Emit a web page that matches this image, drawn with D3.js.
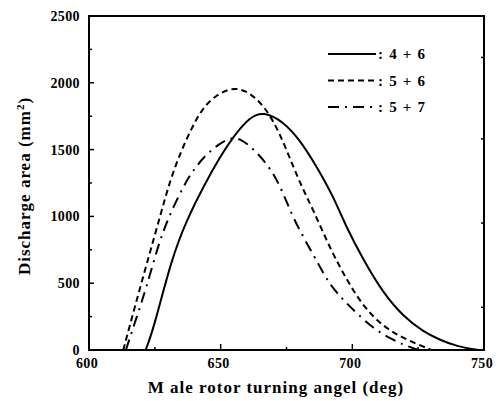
<!DOCTYPE html>
<meta charset="utf-8">
<style>
body { margin: 0; background: #fff; }
svg { display: block; }
text { font-family: "Liberation Serif", "Times New Roman", serif; font-weight: bold; fill: #000; }
.frame { fill: none; stroke: #000; stroke-width: 2; }
.curve { fill: none; stroke: #000; stroke-width: 2; }
</style>
<svg width="499" height="401"></svg>
<script src="https://d3js.org/d3.v7.min.js"></script>
<script>

// series: angle (deg) and discharge area (mm2)
var s46x = [621.5, 624.4, 631.4, 637.1, 643.4, 649.8, 654.8, 661.1, 666.2, 673.8, 680.1, 686.5, 692.8, 697.9, 704.2, 711.8, 719.4, 727, 733.3, 740, 748];
var s46y = [0, 150, 686, 973, 1222, 1447, 1597, 1745, 1785, 1710, 1572, 1372, 1148, 911, 674, 424, 250, 137, 75, 25, 0];

var s56x = [613, 617.5, 622.5, 627, 630.8, 635.2, 639, 642.2, 647.2, 656.1, 664.3, 670, 675.1, 680.1, 685.2, 691.5, 697.9, 704.2, 711.8, 719.4, 730];
var s56y = [0, 330, 686, 1000, 1272, 1500, 1660, 1780, 1900, 1985, 1880, 1722, 1497, 1248, 1048, 761, 524, 324, 174, 87, 0];

var s57x = [614, 618, 621.9, 626.3, 630.1, 635.8, 639.6, 644.7, 652.3, 657.3, 664.9, 670, 673.2, 676.3, 679.5, 687.7, 691.5, 696.6, 701.7, 708, 714.3, 720, 725];
var s57y = [0, 240, 474, 786, 990, 1225, 1347, 1472, 1585, 1595, 1460, 1323, 1198, 1048, 911, 623, 487, 374, 274, 162, 87, 35, 0];

var seriesNames = [": 4 + 6", ": 5 + 6", ": 5 + 7"];
var xTicks = [600, 650, 700, 750];
var xMinor = [625, 675, 725];
var yTicks = [0, 500, 1000, 1500, 2000, 2500];
var yMinor = [250, 750, 1250, 1750, 2250];
var rightTicks = [320, 950, 1580, 2190];

var svg = d3.select("svg");
var mLeft = 89, mRight = 484, mTop = 16, mBottom = 350;

var x = d3.scaleLinear().domain([600, 750]).range([mLeft, mRight]);
var y = d3.scaleLinear().domain([0, 2500]).range([mBottom, mTop]);

var series = [
  {name: seriesNames[0], xs: s46x, ys: s46y, dash: null},
  {name: seriesNames[1], xs: s56x, ys: s56y, dash: "6,4"},
  {name: seriesNames[2], xs: s57x, ys: s57y, dash: "11,6,2,6"}
];

// frame
svg.append("rect").attr("class", "frame")
  .attr("x", mLeft).attr("y", mTop)
  .attr("width", mRight - mLeft).attr("height", mBottom - mTop);

// ticks pointing inward
var g = svg.append("g").attr("stroke", "#000").attr("stroke-width", 1.5);
g.selectAll(".ym").data(yTicks.slice(1, -1)).enter().append("line")
  .attr("x1", mLeft).attr("x2", mLeft + 5).attr("y1", d => y(d)).attr("y2", d => y(d));
g.selectAll(".yn").data(yMinor).enter().append("line")
  .attr("x1", mLeft).attr("x2", mLeft + 3).attr("y1", d => y(d)).attr("y2", d => y(d));
g.selectAll(".xm").data(xTicks.slice(1, -1)).enter().append("line")
  .attr("x1", d => x(d)).attr("x2", d => x(d)).attr("y1", mBottom).attr("y2", mBottom - 6);
g.selectAll(".xn").data(xMinor).enter().append("line")
  .attr("x1", d => x(d)).attr("x2", d => x(d)).attr("y1", mBottom).attr("y2", mBottom - 3);
g.selectAll(".rt").data(rightTicks).enter().append("line")
  .attr("x1", mRight).attr("x2", mRight - 3).attr("y1", d => y(d)).attr("y2", d => y(d));

// tick labels
svg.selectAll(".yl").data(yTicks).enter().append("text")
  .attr("x", 80).attr("y", d => y(d) + 5)
  .attr("text-anchor", "end").style("font-size", "14px").style("letter-spacing", "0.4px")
  .text(d => d);
svg.selectAll(".xl").data(xTicks).enter().append("text")
  .attr("x", d => x(d) - 2).attr("y", 368)
  .attr("text-anchor", "middle").style("font-size", "14px").style("letter-spacing", "0.4px")
  .text(d => d);

// axis titles
svg.append("text")
  .attr("x", 276).attr("y", 393)
  .attr("text-anchor", "middle").style("font-size", "17px").style("letter-spacing", "1px")
  .text("M ale rotor turning angel (deg)");
var yt = svg.append("text")
  .attr("transform", "translate(30,186) rotate(-90)")
  .attr("text-anchor", "middle").style("font-size", "17px").style("letter-spacing", "1px");
yt.append("tspan").text("Discharge area (mm");
yt.append("tspan").attr("dy", -6).style("font-size", "11px").text("2");
yt.append("tspan").attr("dy", 6).text(")");

// curves
var line = d3.line()
  .x(d => x(d[0])).y(d => y(d[1]))
  .curve(d3.curveBasis);

series.forEach(s => {
  svg.append("path").attr("class", "curve")
    .attr("d", line(d3.zip(s.xs, s.ys)))
    .attr("stroke-dasharray", s.dash);
});

// legend
var leg = svg.append("g").selectAll("g").data(series).enter().append("g")
  .attr("transform", (d, i) => "translate(328," + (54 + i * 26.5) + ")");
leg.append("line").attr("class", "curve")
  .attr("x1", 0).attr("x2", 48).attr("y1", 0).attr("y2", 0)
  .attr("stroke-dasharray", d => d.dash);
leg.append("text").attr("x", 50).attr("y", 5)
  .style("font-size", "15px").style("letter-spacing", "1.2px").attr("xml:space", "preserve")
  .text(d => d.name);

</script>
